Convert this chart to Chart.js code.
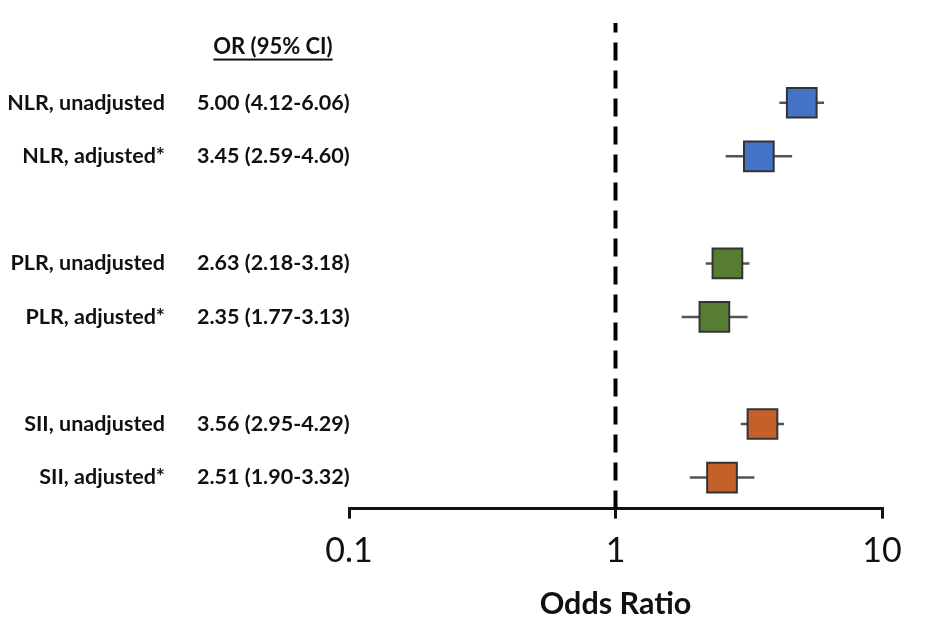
<!DOCTYPE html>
<html>
<head>
<meta charset="utf-8">
<script src="https://cdn.jsdelivr.net/npm/chart.js@4"></script>
<style>
  html, body { margin: 0; padding: 0; background: #fff; }
  #wrap { width: 940px; height: 622px; }
</style>
</head>
<body>
<div id="wrap"><canvas id="forest"></canvas></div>
<script>
// data
var labels = ["NLR, unadjusted", "NLR, adjusted*", "PLR, unadjusted", "PLR, adjusted*", "SII, unadjusted", "SII, adjusted*"];
var rows = [0, 1, 3, 4, 6, 7];
var oddsRatio = [5.00, 3.45, 2.63, 2.35, 3.56, 2.51];
var ciLow = [4.12, 2.59, 2.18, 1.77, 2.95, 1.90];
var ciHigh = [6.06, 4.60, 3.18, 3.13, 4.29, 3.32];
var boxColors = ["#4472C4", "#4472C4", "#577D35", "#577D35", "#C4612A", "#C4612A"];
var tickValues = [0.1, 1, 10];
var tickLabels = ["0.1", "1", "10"];
var refLine = 1;

var FONT = "Lato";
var yMin = -1.49, yMax = 7.58;

// left text columns
var textCols = {
    id: "textCols",
    afterDraw: function(chart) {
        var ctx = chart.ctx, y = chart.scales.y;
        ctx.save();
        ctx.fillStyle = "#111";
        ctx.textBaseline = "middle";
        ctx.font = "bold 21.5px " + FONT;
        for (var i = 0; i < labels.length; i++) {
            var py = y.getPixelForValue(rows[i]);
            ctx.textAlign = "right";
            ctx.fillText(labels[i], 165, py);
            ctx.textAlign = "left";
            ctx.fillText(oddsRatio[i].toFixed(2) + " (" + ciLow[i].toFixed(2) + "-" + ciHigh[i].toFixed(2) + ")", 197, py);
        }
        // header
        ctx.font = "bold 22px " + FONT;
        var hy = y.getPixelForValue(-1.05);
        var head = "OR (95% CI)";
        ctx.textAlign = "center";
        ctx.fillText(head, 273, hy);
        var w = ctx.measureText(head).width;
        ctx.fillRect(273 - w / 2, hy + 12, w, 2);
        ctx.restore();
    }
};

var datasets = [];
datasets.push({
    type: "scatter",
    data: rows.map(function(r, i) { return {x: oddsRatio[i], y: r}; }),
    pointStyle: "rect",
    pointRadius: 21,
    backgroundColor: boxColors,
    borderColor: "#333",
    borderWidth: 2
});
rows.forEach(function(r, i) {
    datasets.push({
        type: "scatter",
        showLine: true,
        data: [{x: ciLow[i], y: r}, {x: ciHigh[i], y: r}],
        borderColor: "#555",
        borderWidth: 2.5,
        pointRadius: 0
    });
});
datasets.push({
    type: "line",
    data: [{x: refLine, y: yMax}, {x: refLine, y: yMin}],
    borderColor: "#000",
    borderWidth: 4,
    borderDash: [18, 10],
    pointRadius: 0
});

new Chart(document.getElementById("forest"), {
    type: "scatter",
    data: { datasets: datasets },
    options: {
        responsive: true,
        maintainAspectRatio: false,
        animation: false,
        layout: { padding: { left: 349, right: 58, top: 13, bottom: 0 } },
        plugins: { legend: { display: false }, tooltip: { enabled: false } },
        scales: {
            x: {
                type: "logarithmic",
                min: 0.1,
                max: 10,
                afterBuildTicks: function(scale) {
                    scale.ticks = tickValues.map(function(v) { return {value: v}; });
                },
                ticks: {
                    callback: function(v, i) { return tickLabels[i]; },
                    font: { family: FONT, size: 34 },
                    color: "#111",
                    padding: 12,
                    maxRotation: 0
                },
                grid: { drawOnChartArea: false, drawTicks: true, tickLength: 10, color: "#111", lineWidth: 3 },
                border: { color: "#111", width: 3 },
                title: {
                    display: true,
                    text: "Odds Ratio",
                    font: { family: FONT, size: 30.5, weight: "bold" },
                    color: "#111",
                    padding: { top: 2, bottom: 0 }
                }
            },
            y: {
                type: "linear",
                reverse: true,
                min: yMin,
                max: yMax,
                display: false
            }
        }
    },
    plugins: [textCols]
});
</script>
</body>
</html>
